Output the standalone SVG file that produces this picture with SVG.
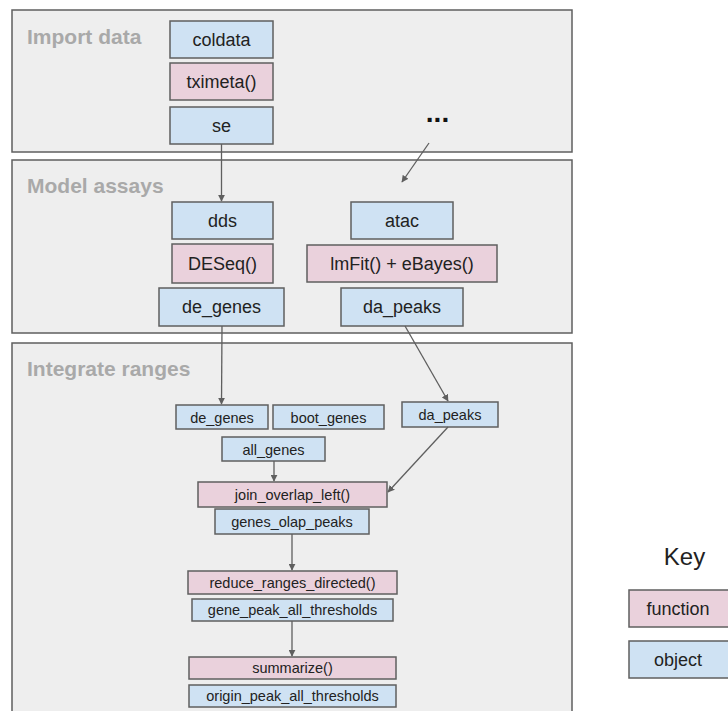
<svg xmlns="http://www.w3.org/2000/svg" width="728" height="711" viewBox="0 0 728 711">
  <style>
    .panel { fill: #eeeeee; stroke: #5f5f5f; stroke-width: 1.5; }
    .ptitle { font-family: "Liberation Sans", Arial, sans-serif; font-weight: bold; font-size: 21px; fill: #a9a9a9; }
    .obj { fill: #cfe2f3; stroke: #5f5f5f; stroke-width: 1.5; }
    .fn { fill: #ead1dc; stroke: #5f5f5f; stroke-width: 1.5; }
    .lbl { font-family: "Liberation Sans", Arial, sans-serif; font-size: 18px; fill: #222222; text-anchor: middle; }
    .sm { font-family: "Liberation Sans", Arial, sans-serif; font-size: 14.5px; fill: #222222; text-anchor: middle; }
    .edge { fill: none; stroke: #5f5f5f; stroke-width: 1.3; marker-end: url(#arrow); }
  </style>
  <defs>
    <marker id="arrow" viewBox="0 0 10 10" refX="9" refY="5" markerWidth="7" markerHeight="7" markerUnits="userSpaceOnUse" orient="auto">
      <path d="M0,0 L10,5 L0,10 z" fill="#5f5f5f"/>
    </marker>
  </defs>

  <!-- stage panels -->
  <g id="panel-import">
    <rect class="panel" x="12" y="10" width="560" height="142"/>
    <text class="ptitle" x="27" y="44">Import data</text>
  </g>
  <g id="panel-model">
    <rect class="panel" x="12" y="160" width="560" height="173"/>
    <text class="ptitle" x="27" y="193">Model assays</text>
  </g>
  <g id="panel-integrate">
    <rect class="panel" x="12" y="343" width="560" height="380"/>
    <text class="ptitle" x="27" y="376">Integrate ranges</text>
  </g>

  <!-- import data -->
  <g id="coldata"><rect class="obj" x="170" y="21" width="103" height="37"/><text class="lbl" x="221.5" y="46">coldata</text></g>
  <g id="tximeta"><rect class="fn" x="170" y="63" width="103" height="37"/><text class="lbl" x="221.5" y="88">tximeta()</text></g>
  <g id="se"><rect class="obj" x="170" y="107" width="103" height="37"/><text class="lbl" x="221.5" y="132">se</text></g>
  <g id="more"><text x="437.5" y="122" font-family="Liberation Sans, Arial, sans-serif" font-weight="bold" font-size="28px" fill="#111111" text-anchor="middle">...</text></g>

  <!-- model assays -->
  <g id="dds"><rect class="obj" x="172" y="202" width="101" height="37"/><text class="lbl" x="222.5" y="227">dds</text></g>
  <g id="deseq"><rect class="fn" x="172" y="244" width="101" height="39"/><text class="lbl" x="222.5" y="270">DESeq()</text></g>
  <g id="de_genes"><rect class="obj" x="159" y="288" width="125" height="38"/><text class="lbl" x="221.5" y="313">de_genes</text></g>
  <g id="atac"><rect class="obj" x="351" y="202" width="102" height="37"/><text class="lbl" x="402" y="227">atac</text></g>
  <g id="lmfit"><rect class="fn" x="307" y="245" width="190" height="37"/><text class="lbl" x="402" y="270">lmFit() + eBayes()</text></g>
  <g id="da_peaks"><rect class="obj" x="341" y="288" width="122" height="38"/><text class="lbl" x="402" y="313">da_peaks</text></g>

  <!-- integrate ranges -->
  <g id="de_genes_2"><rect class="obj" x="176" y="405" width="92" height="24"/><text class="sm" x="222" y="422.5">de_genes</text></g>
  <g id="boot_genes"><rect class="obj" x="273" y="405" width="111" height="24"/><text class="sm" x="328.5" y="422.5">boot_genes</text></g>
  <g id="da_peaks_2"><rect class="obj" x="402" y="402" width="96" height="25"/><text class="sm" x="450" y="419.5">da_peaks</text></g>
  <g id="all_genes"><rect class="obj" x="222" y="437" width="103" height="24"/><text class="sm" x="273.5" y="454.5">all_genes</text></g>
  <g id="join_overlap_left"><rect class="fn" x="198" y="482" width="189" height="25"/><text class="sm" x="292.5" y="499.5">join_overlap_left()</text></g>
  <g id="genes_olap_peaks"><rect class="obj" x="215" y="509" width="154" height="25"/><text class="sm" x="292" y="526.5">genes_olap_peaks</text></g>
  <g id="reduce_ranges_directed"><rect class="fn" x="188" y="571" width="209" height="23"/><text class="sm" x="292.5" y="587.5">reduce_ranges_directed()</text></g>
  <g id="gene_peak_all_thresholds"><rect class="obj" x="192" y="599" width="201" height="22"/><text class="sm" x="292.5" y="615">gene_peak_all_thresholds</text></g>
  <g id="summarize"><rect class="fn" x="189" y="657" width="207" height="22"/><text class="sm" x="292.5" y="673">summarize()</text></g>
  <g id="origin_peak_all_thresholds"><rect class="obj" x="189" y="685" width="207" height="22"/><text class="sm" x="292.5" y="701">origin_peak_all_thresholds</text></g>

  <!-- key -->
  <g id="key">
    <text x="684.5" y="565" font-family="Liberation Sans, Arial, sans-serif" font-size="24px" fill="#222222" text-anchor="middle">Key</text>
    <rect class="fn" x="629" y="590" width="102" height="37"/><text class="lbl" x="678" y="615">function</text>
    <rect class="obj" x="629" y="641" width="102" height="37"/><text class="lbl" x="678" y="666">object</text>
  </g>

  <!-- connectors -->
  <g id="connectors">
    <line class="edge" x1="221.5" y1="144" x2="221.5" y2="201"/>
    <line class="edge" x1="429" y1="143" x2="402" y2="182"/>
    <line class="edge" x1="222" y1="326" x2="221.5" y2="404"/>
    <line class="edge" x1="405" y1="326" x2="448" y2="401"/>
    <line class="edge" x1="274" y1="461" x2="274" y2="481"/>
    <line class="edge" x1="448" y1="427" x2="388" y2="492"/>
    <line class="edge" x1="292" y1="534" x2="292" y2="570"/>
    <line class="edge" x1="292" y1="621" x2="292" y2="656"/>
  </g>
</svg>
